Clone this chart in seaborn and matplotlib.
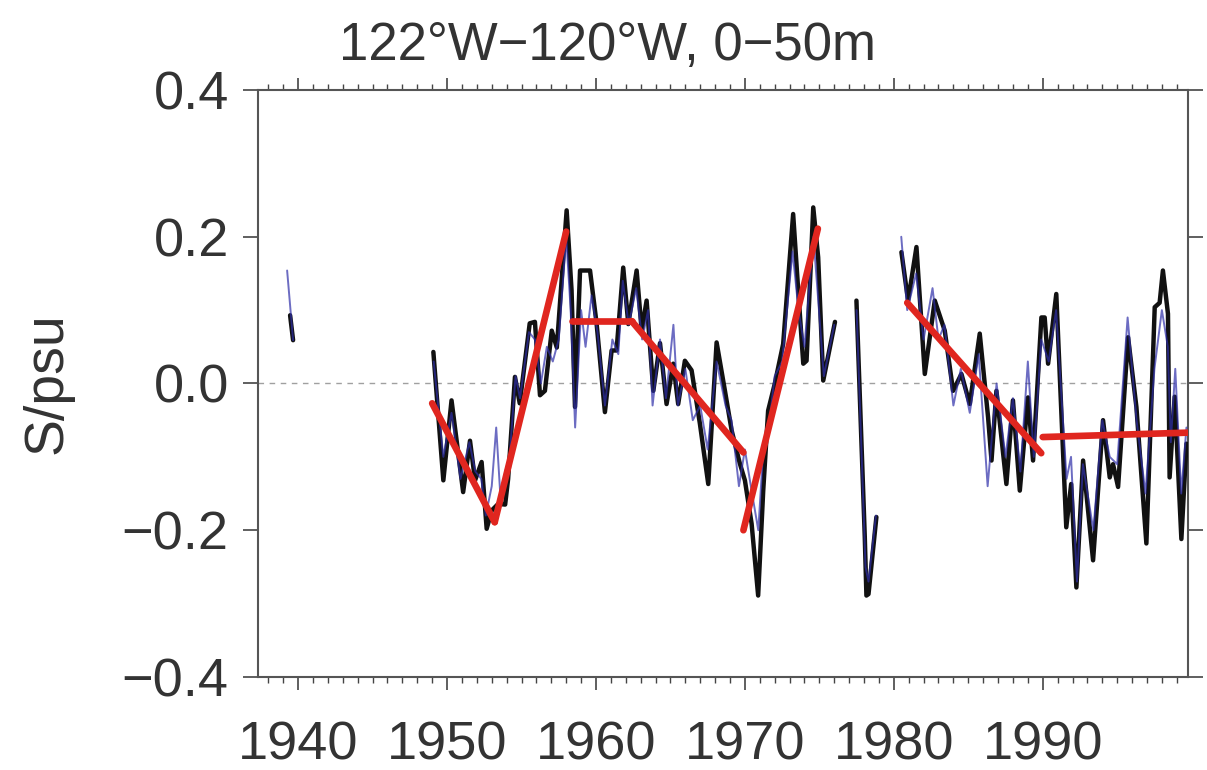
import matplotlib
matplotlib.use("Agg")
import matplotlib.pyplot as plt
from matplotlib.ticker import MultipleLocator
import numpy as np
import pandas as pd
import seaborn as sns

# Salinity anomaly, 122°W-120°W, 0-50 m (smoothed series, black)
black_1939_years = [1939.46, 1939.66]
black_1939_vals = [0.093, 0.059]

black_a_years = [1949.08, 1949.75, 1950.30, 1951.08, 1951.54, 1951.88, 1952.32, 1952.66,
                 1953.00, 1953.44, 1953.90, 1954.10, 1954.56, 1954.88, 1955.55, 1955.90,
                 1956.24, 1956.57, 1957.03, 1957.37, 1958.03, 1958.36, 1958.59, 1958.93,
                 1959.60, 1960.04, 1960.60, 1961.05, 1961.38, 1961.83, 1962.17, 1962.73,
                 1963.07, 1963.40, 1963.85, 1964.30, 1964.74, 1965.19, 1965.52, 1965.97,
                 1966.42, 1966.98, 1967.54, 1968.10, 1968.66, 1969.11, 1969.66, 1970.00,
                 1970.45, 1970.89, 1971.23, 1971.56, 1972.01, 1972.57, 1973.24, 1973.58,
                 1973.92, 1974.14, 1974.59, 1974.92, 1975.26, 1976.05]
black_a_vals = [0.043, -0.132, -0.023, -0.148, -0.078, -0.132, -0.107, -0.198,
                -0.173, -0.164, -0.165, -0.130, 0.009, -0.027, 0.082, 0.084,
                -0.016, -0.010, 0.072, 0.049, 0.236, 0.127, -0.032, 0.154,
                0.154, 0.082, -0.039, 0.045, 0.045, 0.158, 0.081, 0.154,
                0.072, 0.113, -0.010, 0.055, -0.028, 0.027, -0.028, 0.031,
                0.018, -0.055, -0.137, 0.056, -0.010, -0.064, -0.109, -0.132,
                -0.191, -0.289, -0.146, -0.037, 0.000, 0.054, 0.231, 0.127,
                0.027, 0.031, 0.240, 0.172, 0.004, 0.084]

black_b_years = [1977.49, 1978.05, 1978.16, 1978.30, 1978.83]
black_b_vals = [0.113, -0.209, -0.289, -0.287, -0.182]

black_c_years = [1980.51, 1980.96, 1981.52, 1982.08, 1982.75, 1983.42, 1983.98, 1984.54,
                 1985.10, 1985.77, 1986.33, 1986.56, 1986.89, 1987.56, 1988.00, 1988.46,
                 1989.01, 1989.35, 1989.91, 1990.13, 1990.36, 1990.91, 1991.58, 1991.91,
                 1992.26, 1992.71, 1993.38, 1994.05, 1994.50, 1994.72, 1995.06, 1995.73,
                 1996.29, 1996.96, 1997.52, 1997.85, 1998.07, 1998.41, 1998.52, 1998.86,
                 1999.31, 1999.65]
black_c_vals = [0.179, 0.113, 0.186, 0.013, 0.113, 0.072, -0.010, 0.013,
                -0.028, 0.068, -0.046, -0.105, -0.010, -0.137, -0.023, -0.146,
                -0.019, -0.105, 0.090, 0.090, 0.027, 0.122, -0.196, -0.137,
                -0.278, -0.105, -0.241, -0.050, -0.128, -0.110, -0.141, 0.063,
                -0.032, -0.218, 0.104, 0.110, 0.154, 0.095, -0.128, -0.018,
                -0.212, -0.082]

# Less smoothed series (blue)
blue_1939_years = [1939.26, 1939.66]
blue_1939_vals = [0.154, 0.059]

blue_a_years = [1949.1, 1949.75, 1950.3, 1950.9, 1951.5, 1951.9, 1952.3, 1952.6, 1953.0,
                1953.3, 1953.6, 1953.9, 1954.2, 1954.6, 1954.9, 1955.5, 1955.9, 1956.3,
                1956.7, 1957.1, 1957.5, 1958.0, 1958.3, 1958.6, 1959.0, 1959.3, 1959.7,
                1960.1, 1960.6, 1961.1, 1961.5, 1961.8, 1962.2, 1962.7, 1963.1, 1963.5,
                1963.8, 1964.3, 1964.7, 1965.2, 1965.5, 1966.0, 1966.5, 1967.0, 1967.5,
                1968.1, 1968.7, 1969.1, 1969.6, 1970.0, 1970.4, 1970.9, 1971.2, 1971.6,
                1972.0, 1972.5, 1973.2, 1973.6, 1974.0, 1974.6, 1974.9, 1975.3, 1976.0]
blue_a_vals = [0.03, -0.10, -0.04, -0.13, -0.08, -0.12, -0.13, -0.18, -0.14,
               -0.06, -0.16, -0.12, -0.10, 0.01, -0.02, 0.07, 0.06, 0.00,
               0.05, 0.03, 0.06, 0.20, 0.10, -0.06, 0.10, 0.05, 0.12,
               0.07, -0.03, 0.06, 0.04, 0.14, 0.08, 0.13, 0.06, 0.10,
               -0.03, 0.06, -0.02, 0.08, -0.03, 0.02, -0.05, -0.03, -0.09,
               0.03, -0.03, -0.05, -0.14, -0.09, -0.14, -0.20, -0.10, -0.06,
               0.01, 0.03, 0.18, 0.10, 0.05, 0.20, 0.12, 0.01, 0.08]

blue_b_years = [1977.5, 1978.1, 1978.3, 1978.8]
blue_b_vals = [0.10, -0.25, -0.27, -0.18]

blue_c_years = [1980.5, 1980.9, 1981.5, 1982.0, 1982.6, 1983.0, 1983.4, 1984.0, 1984.5,
                1985.1, 1985.7, 1986.3, 1986.9, 1987.5, 1988.0, 1988.5, 1989.0, 1989.4,
                1989.9, 1990.4, 1990.9, 1991.6, 1991.9, 1992.3, 1992.7, 1993.4, 1994.0,
                1994.5, 1995.0, 1995.7, 1996.3, 1996.9, 1997.5, 1998.0, 1998.4, 1998.6,
                1998.9, 1999.3, 1999.65]
blue_c_vals = [0.20, 0.10, 0.15, 0.06, 0.13, 0.06, 0.08, -0.03, 0.02,
               -0.04, 0.04, -0.14, 0.00, -0.10, -0.02, -0.12, 0.03, -0.10,
               0.06, 0.03, 0.10, -0.13, -0.10, -0.27, -0.11, -0.20, -0.05,
               -0.10, -0.11, 0.09, -0.05, -0.15, 0.02, 0.10, 0.05, -0.08,
               0.02, -0.15, -0.06]

# Piecewise linear trends (red): start year, start value, end year, end value
trend_start_years = [1949.0, 1953.2, 1958.4, 1962.4, 1969.9, 1980.9, 1990.0]
trend_start_vals = [-0.027, -0.189, 0.085, 0.085, -0.200, 0.110, -0.073]
trend_end_years = [1953.2, 1958.0, 1962.4, 1969.9, 1974.9, 1989.9, 1999.7]
trend_end_vals = [-0.189, 0.207, 0.085, -0.094, 0.211, -0.095, -0.067]

title_text = "122°W\u2212120°W, 0\u221250m"
y_label = "S/psu"
x_ticks = [1940, 1950, 1960, 1970, 1980, 1990]
y_ticks = [-0.4, -0.2, 0.0, 0.2, 0.4]

sns.set_theme(style="white")
plt.rcParams["font.family"] = ["Liberation Sans", "DejaVu Sans"]

text_color = "#333333"

fig = plt.figure(figsize=(12.07, 7.70), dpi=100)
ax = fig.add_axes([0.2137, 0.1208, 0.7705, 0.7623])

ax.axhline(0.0, color="#a0a0a0", lw=1.0, ls=(0, (4, 4)), zorder=1)

def line(years, vals, **kw):
    df = pd.DataFrame({"year": years, "value": vals})
    sns.lineplot(data=df, x="year", y="value", ax=ax, sort=False,
                 estimator=None, legend=False, **kw)

for yrs, vals in [(black_1939_years, black_1939_vals), (black_a_years, black_a_vals),
                  (black_b_years, black_b_vals), (black_c_years, black_c_vals)]:
    line(yrs, vals, color="#111111", linewidth=3.2, zorder=3)

for yrs, vals in [(blue_1939_years, blue_1939_vals), (blue_a_years, blue_a_vals),
                  (blue_b_years, blue_b_vals), (blue_c_years, blue_c_vals)]:
    line(yrs, vals, color="#2e2ea8", linewidth=1.4, alpha=0.7, zorder=4)

for x0, y0, x1, y1 in zip(trend_start_years, trend_start_vals, trend_end_years, trend_end_vals):
    line([x0, x1], [y0, y1], color="#e0261f", linewidth=4.8, zorder=5)

ax.set_xlim(1937.3, 1999.75)
ax.set_ylim(-0.4, 0.4)
ax.set_xticks(x_ticks)
ax.set_xticklabels([str(t) for t in x_ticks])
ax.xaxis.set_minor_locator(MultipleLocator(1))
ax.set_yticks(y_ticks)
ax.set_yticklabels([f"{t:.1f}".replace("-", "\u2212") for t in y_ticks])

ax.tick_params(axis="x", which="major", direction="out", length=9, width=1.2,
               color="#444444", top=True, bottom=True, labelsize=39, pad=22,
               labelcolor=text_color)
ax.tick_params(axis="x", which="minor", direction="out", length=4.5, width=1.0,
               color="#444444", top=True, bottom=True)
ax.tick_params(axis="y", which="major", direction="out", length=11, width=1.2,
               color="#444444", left=True, right=True, labelsize=39, pad=10,
               labelcolor=text_color)

for s in ax.spines.values():
    s.set_color("#555555")
    s.set_linewidth(1.5)

ax.set_xlabel("")
ax.set_ylabel(y_label, fontsize=40, color=text_color, labelpad=35)

# Figure-centred heading
fig.text(0.503, 1 - 60 / 770, title_text, ha="center", va="baseline", fontsize=38,
         color=text_color)

fig.savefig("out.png", dpi=100, facecolor="white")
